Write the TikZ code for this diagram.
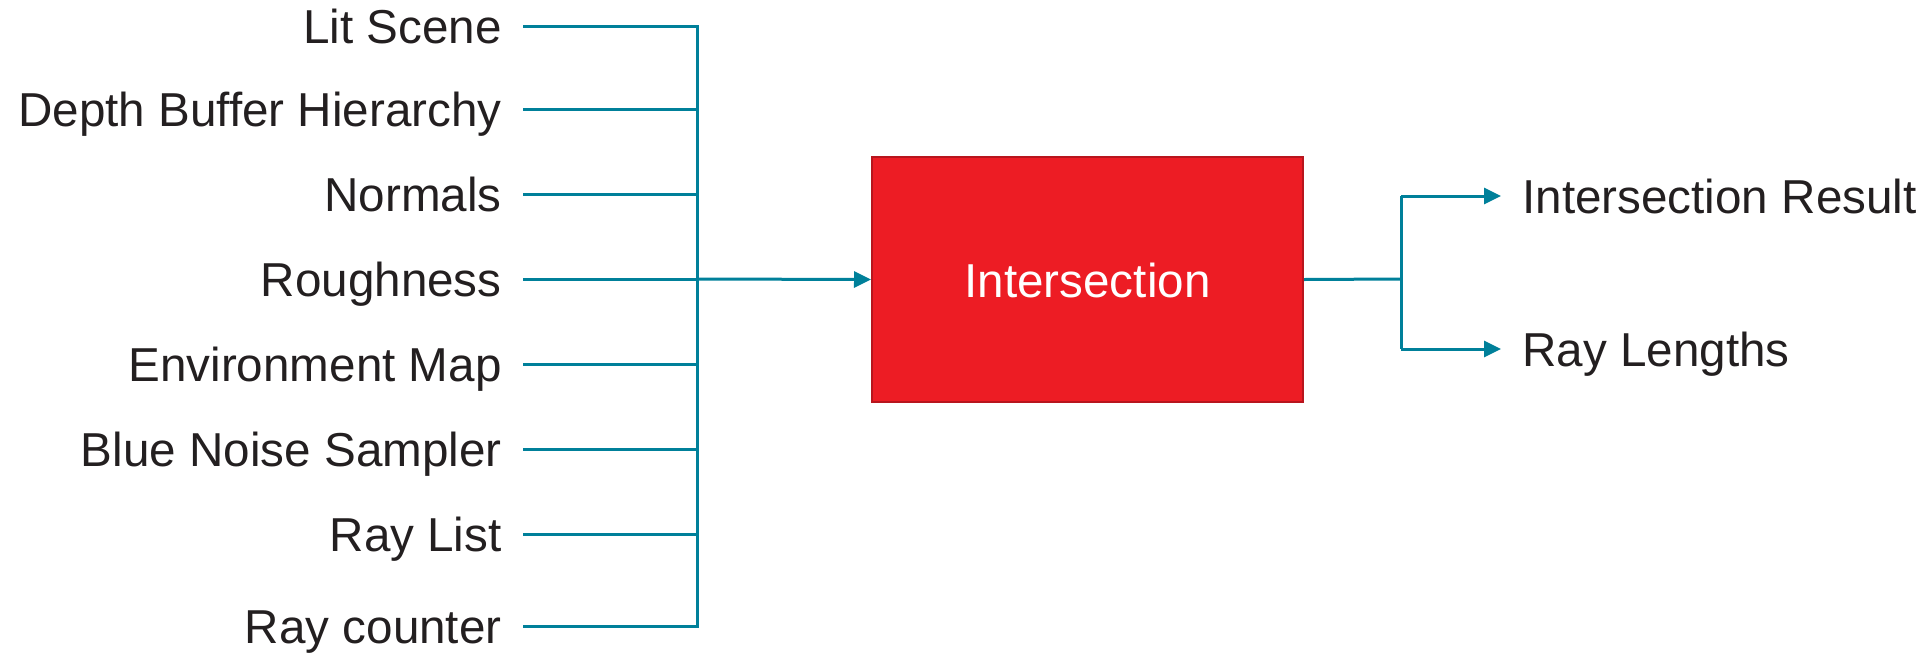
\documentclass[tikz,border=0pt]{standalone}
\usepackage{fontspec}
\setmainfont{Liberation Sans}
\usetikzlibrary{arrows.meta}
\definecolor{wire}{HTML}{00809A}
\definecolor{boxfill}{HTML}{ED1C24}
\definecolor{boxline}{HTML}{B8151D}
\definecolor{ink}{HTML}{231F20}
\begin{document}
\begin{tikzpicture}[x=0.5pt,y=-0.5pt,
  wirestyle/.style={draw=wire,line width=1.5pt},
  arrowed/.style={wirestyle,-{Triangle[length=8.5pt,width=8pt]}},
  labelfont/.style={font=\fontsize{23.8pt}{28pt}\selectfont},
  inlabel/.style={anchor=base east,inner sep=0pt,text=ink,labelfont},
  outlabel/.style={anchor=base west,inner sep=0pt,text=ink,labelfont},
  procbox/.style={draw=boxline,line width=1pt,fill=boxfill,minimum width=215.5pt,minimum height=122.5pt,inner sep=0pt}]
\useasboundingbox (0,0) rectangle (1929,654);

% input labels and their stub coordinates
\foreach \name/\txt/\yy in {a/Lit Scene/26, b/Depth Buffer Hierarchy/109, c/Normals/194,
    d/Roughness/279, e/Environment Map/364, f/Blue Noise Sampler/449,
    g/Ray List/534, h/Ray counter/626}{
  \node[inlabel] (\name) at (502,\yy+17) {\txt};
  \coordinate (\name s) at (523,\yy);
  \coordinate (\name b) at (697,\yy);
}

% processing block
\node[procbox] (proc) at (1087.5,279.5) {};
\node[anchor=base,inner sep=0pt,text=white,labelfont] (proctxt) at (1087.5,297) {Intersection};

% input bus
\draw[wirestyle] (as) -- (ab) -- (hb) -- (hs);
\foreach \name in {b,c,d,e,f,g}{
  \draw[wirestyle] (\name s) -- (\name b);
}
\draw[arrowed] (db) -- (proc.west);

% outputs
\coordinate (split) at (1401,279);
\coordinate (upper) at (1401,196);
\coordinate (lower) at (1401,349);
\coordinate (upperend) at (1501,196);
\coordinate (lowerend) at (1501,349);
\node[outlabel] (res) at (1522,213) {Intersection Result};
\node[outlabel] (len) at (1522,366) {Ray Lengths};
\draw[wirestyle] (proc.east) -- (split);
\draw[wirestyle] (upper) -- (lower);
\draw[arrowed] (upper) -- (upperend);
\draw[arrowed] (lower) -- (lowerend);
\end{tikzpicture}
\end{document}
